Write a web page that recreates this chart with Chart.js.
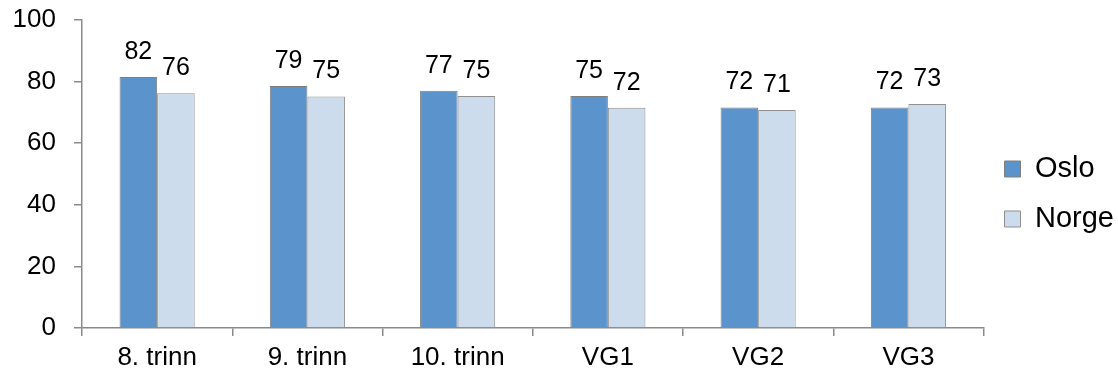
<!DOCTYPE html>
<html>
<head>
<meta charset="utf-8">
<script src="https://cdn.jsdelivr.net/npm/chart.js@4/dist/chart.umd.min.js"></script>
<style>
  body { margin: 0; background: #fff; }
  #wrap { width: 1118px; height: 380px; }
</style>
</head>
<body>
<div id="wrap"><canvas id="chart"></canvas></div>
<script>
const categories = ["8. trinn", "9. trinn", "10. trinn", "VG1", "VG2", "VG3"];
const oslo = [81.5, 78.6, 77.0, 75.3, 71.6, 71.6];
const norge = [76.2, 75.2, 75.3, 71.5, 70.8, 72.7];
const osloLabels = [82, 79, 77, 75, 72, 72];
const norgeLabels = [76, 75, 75, 72, 71, 73];

const FONT = "'Liberation Sans', Arial, sans-serif";
const AXIS = "#8a8a8a";

// draws the number above each bar
const valueLabels = {
  id: "valueLabels",
  afterDatasetsDraw(chart) {
    const ctx = chart.ctx;
    const texts = [osloLabels, norgeLabels];
    ctx.save();
    ctx.font = "25px " + FONT;
    ctx.fillStyle = "#000";
    ctx.textAlign = "center";
    ctx.textBaseline = "alphabetic";
    chart.data.datasets.forEach((ds, i) => {
      chart.getDatasetMeta(i).data.forEach((bar, j) => {
        ctx.fillText(texts[i][j], bar.x, bar.y - 18);
      });
    });
    ctx.restore();
  }
};

// nudge the legend up a little
const legendNudge = {
  id: "legendNudge",
  afterLayout(chart) {
    if (chart.legend) {
      chart.legend.top -= 6;
      chart.legend.bottom -= 6;
    }
  }
};

new Chart(document.getElementById("chart"), {
  type: "bar",
  data: {
    labels: categories,
    datasets: [
      {
        label: "Oslo",
        data: oslo,
        backgroundColor: "#5b93cc",
        borderColor: "#7f7f7f",
        borderWidth: 1,
        categoryPercentage: 0.5,
        barPercentage: 1
      },
      {
        label: "Norge",
        data: norge,
        backgroundColor: "#ccdcec",
        borderColor: "#8f8f8f",
        borderWidth: 1,
        categoryPercentage: 0.5,
        barPercentage: 1
      }
    ]
  },
  options: {
    responsive: true,
    maintainAspectRatio: false,
    animation: false,
    layout: { padding: { top: 20, right: -6, left: 0, bottom: 0 } },
    plugins: {
      tooltip: { enabled: false },
      legend: {
        position: "right",
        labels: {
          font: { family: FONT, size: 29 },
          color: "#000",
          boxWidth: 16,
          boxHeight: 16,
          padding: 21
        }
      }
    },
    scales: {
      x: {
        grid: { drawOnChartArea: false, tickLength: 8, color: AXIS, lineWidth: 1.5 },
        border: { color: AXIS, width: 1.5 },
        ticks: { font: { family: FONT, size: 26 }, color: "#000", padding: 6 },
        afterFit(scale) { scale.height = 52; }
      },
      y: {
        min: 0,
        max: 100,
        grid: { drawOnChartArea: false, tickLength: 8, color: AXIS, lineWidth: 1.5 },
        border: { color: AXIS, width: 1.5 },
        ticks: { stepSize: 20, font: { family: FONT, size: 26 }, color: "#000", padding: 18 },
        afterFit(scale) {
          scale.width = 82;
          scale.paddingTop = 0;
        }
      }
    }
  },
  plugins: [valueLabels, legendNudge]
});
</script>
</body>
</html>
